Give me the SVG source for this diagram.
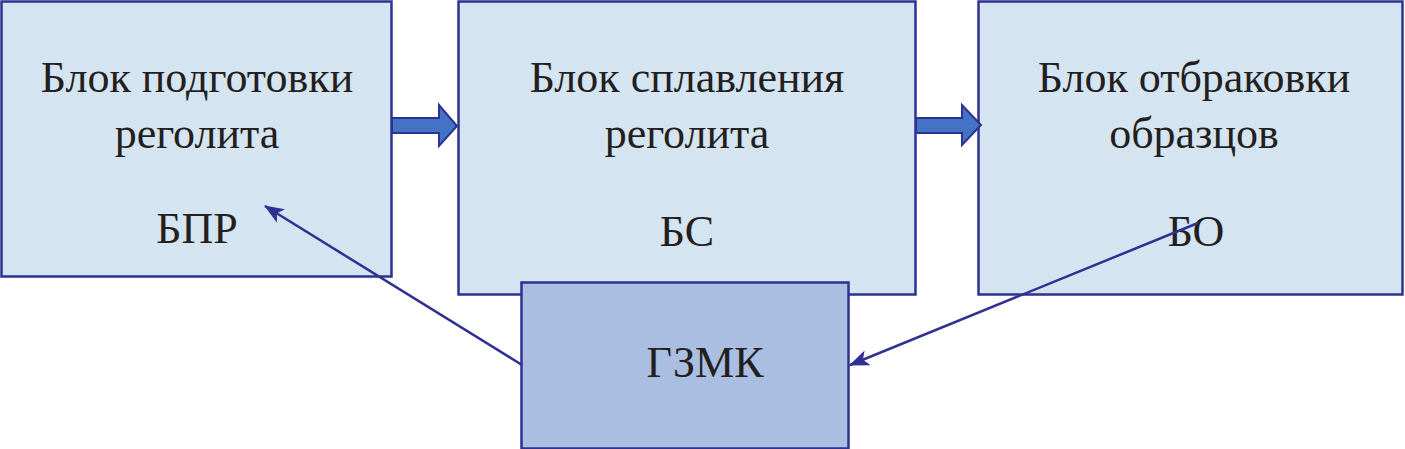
<svg xmlns="http://www.w3.org/2000/svg" width="1405" height="449" viewBox="0 0 1405 449">
<style>
.box{fill:#d5e4f1;stroke:#2e3192;stroke-width:2.5}
.box2{fill:#a9bee0;stroke:#2e3192;stroke-width:2.5}
.t{font-family:"Liberation Serif","Times New Roman",serif;font-size:44px;fill:#231f20;text-anchor:middle}
.blk{fill:#4472c4;stroke:#2e3192;stroke-width:2}
.ln{stroke:#2e3192;stroke-width:2.5;fill:none;marker-end:url(#ah)}
</style>
<defs>
<marker id="ah" markerWidth="20" markerHeight="16" refX="19" refY="8" orient="auto" markerUnits="userSpaceOnUse" viewBox="0 0 20 16">
<path d="M0,0 L20,8 L0,16 L5,8 Z" fill="#2e3192"/>
</marker>
</defs>
<g id="bpr">
<rect class="box" x="1.5" y="1.5" width="390" height="275"/>
<text class="t" x="197" y="92">Блок подготовки</text>
<text class="t" x="197" y="148">реголита</text>
<text class="t" x="197" y="243">БПР</text>
</g>
<g id="bs">
<rect class="box" x="458.5" y="1.5" width="457" height="293"/>
<text class="t" x="687" y="92">Блок сплавления</text>
<text class="t" x="687" y="148">реголита</text>
<text class="t" x="687" y="246">БС</text>
</g>
<g id="bo">
<rect class="box" x="978.5" y="1.5" width="424" height="293"/>
<text class="t" x="1194" y="92">Блок отбраковки</text>
<text class="t" x="1194" y="148">образцов</text>
<text class="t" x="1196" y="246">БО</text>
</g>
<g id="gzmk">
<rect class="box2" x="521.5" y="282.5" width="327" height="166"/>
<text class="t" x="705" y="377">ГЗМК</text>
</g>
<g id="connectors">
<path class="blk" d="M392,118 L439,118 L439,105 L457,126 L439,146 L439,133 L392,133 Z"/>
<path class="blk" d="M916,118 L962,118 L962,105 L981,125 L962,145 L962,133 L916,133 Z"/>
<line class="ln" x1="522" y1="365" x2="265" y2="206"/>
<line class="ln" x1="1198" y1="223" x2="850" y2="365"/>
</g>
</svg>
